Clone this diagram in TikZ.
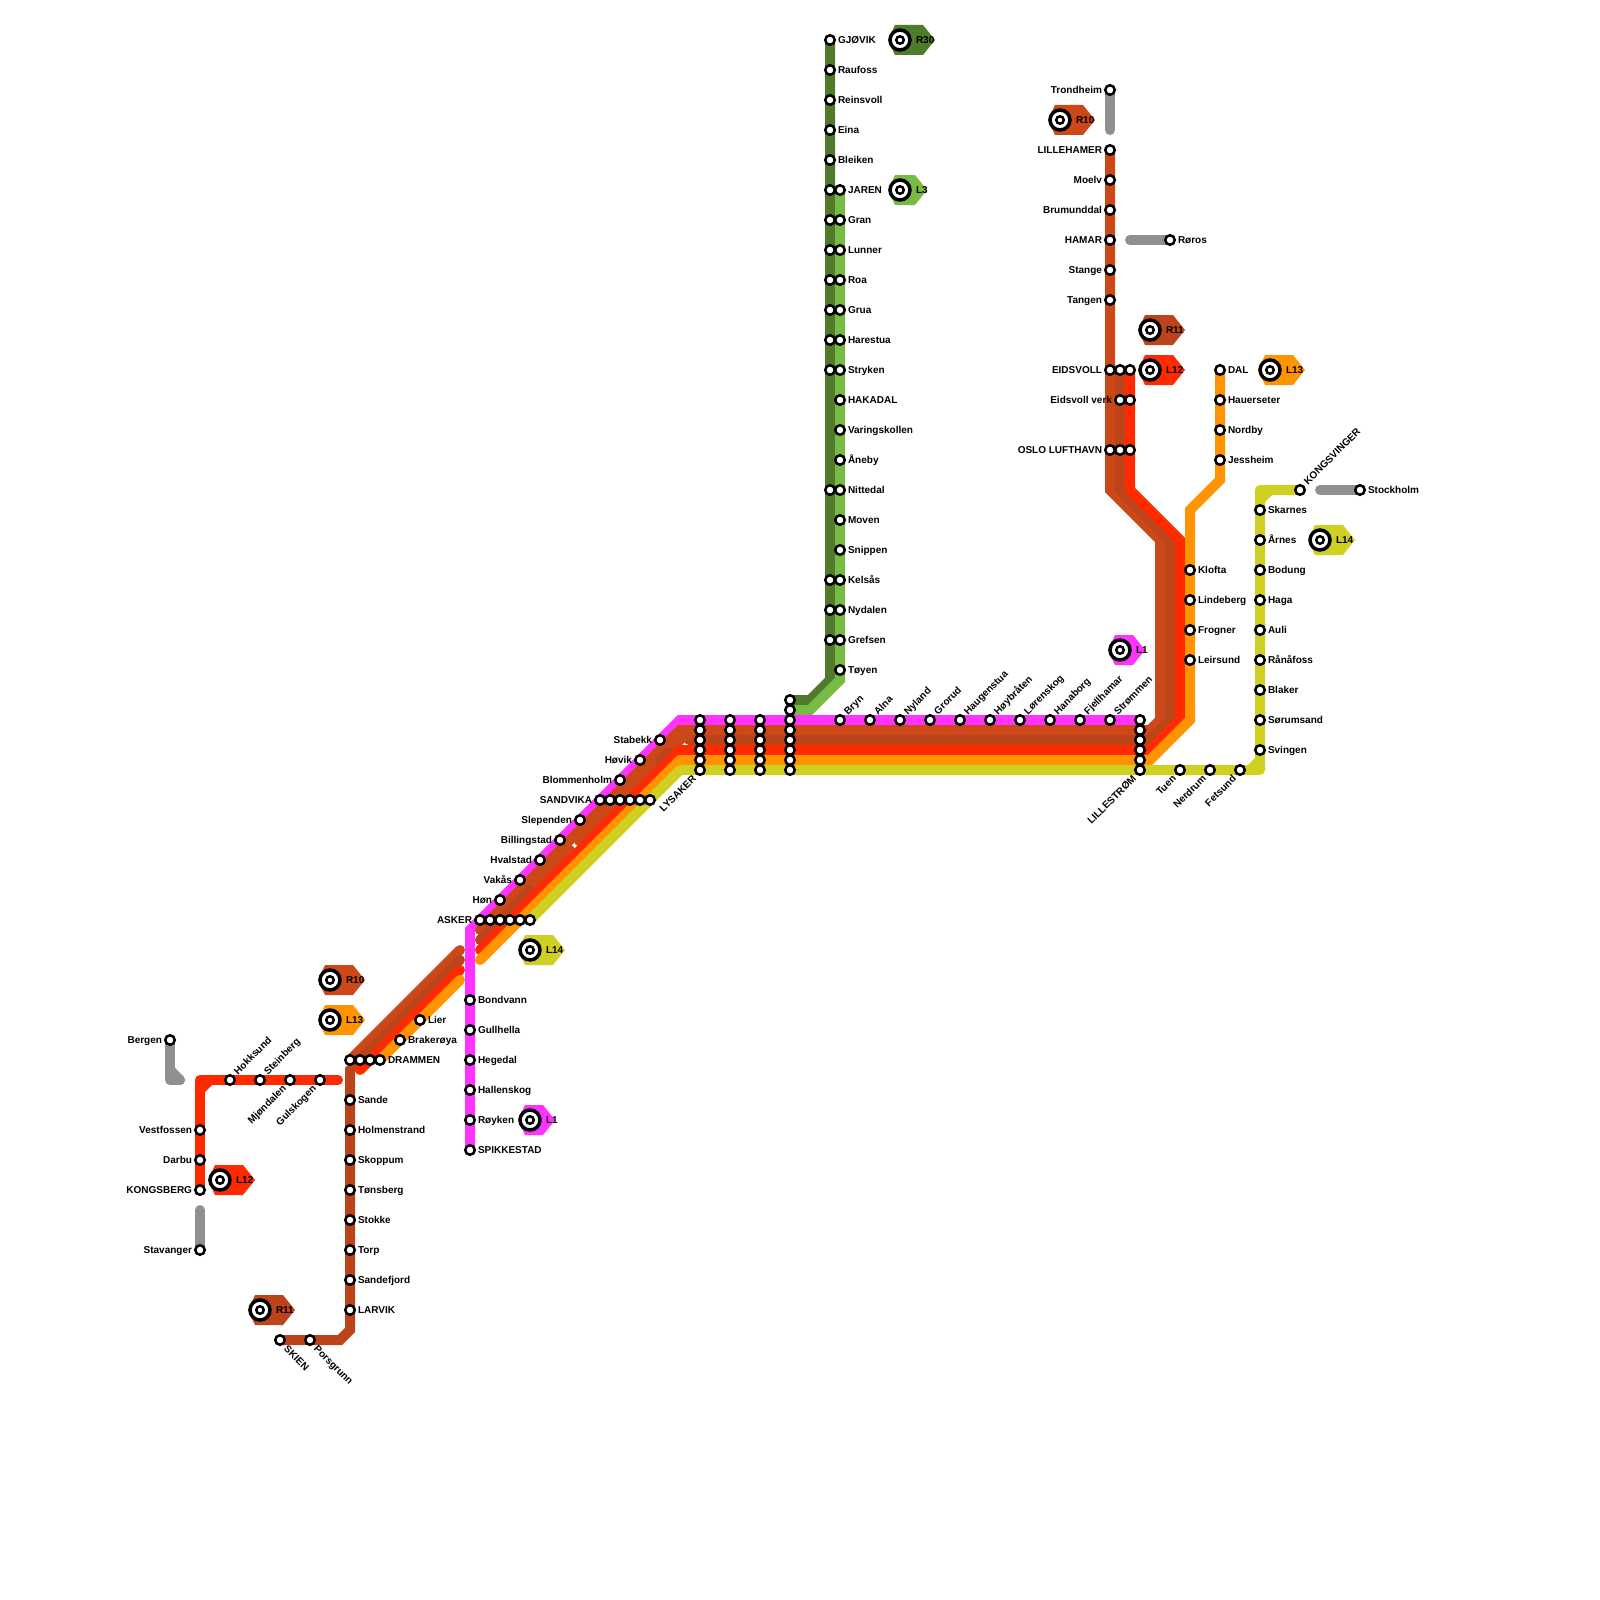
\documentclass[tikz,border=0pt]{standalone}
\usepackage{fontspec}
\setmainfont{Liberation Sans}
\usepackage{xcolor}
\usetikzlibrary{backgrounds}
\definecolor{colL1}{HTML}{FF33FF}
\definecolor{colL3}{HTML}{77BB44}
\definecolor{colL12}{HTML}{FF2A00}
\definecolor{colL13}{HTML}{FF9400}
\definecolor{colL14}{HTML}{CFD022}
\definecolor{colR10}{HTML}{CC4818}
\definecolor{colR11}{HTML}{BB441B}
\definecolor{colR30}{HTML}{507A2C}
\definecolor{colGrey}{HTML}{909090}

\begin{document}
\begin{tikzpicture}[
    x=0.5pt, y=-0.5pt,
    label distance=1.625pt,
    track/.style={line width=5pt, line cap=round},
    L1line/.style={track, colL1},
    L3line/.style={track, colL3},
    L12line/.style={track, colL12},
    L13line/.style={track, colL13},
    L14line/.style={track, colL14, line join=round},
    R10line/.style={track, colR10},
    R11line/.style={track, colR11},
    R30line/.style={track, colR30},
    greyline/.style={track, colGrey, line join=round},
    stn/.style={circle, draw=black, fill=white, line width=1.25pt, minimum size=4.75pt, inner sep=0pt, outer sep=0pt},
    ringo/.style={circle, draw=black, fill=white, line width=1.75pt, minimum size=10pt, inner sep=0pt, outer sep=0pt},
    ringi/.style={circle, draw=black, fill=white, line width=1.25pt, minimum size=3.75pt, inner sep=0pt, outer sep=0pt},
    stxt/.style={font=\bfseries\fontsize{5}{6}\selectfont, inner sep=0pt, outer sep=0pt, text height=3.6pt, text depth=0.5pt},
    upR/.style={stxt, rotate=45, anchor=west, xshift=1pt, yshift=-0.75pt},
    dnL/.style={stxt, rotate=45, anchor=east, xshift=-1pt, yshift=0.5pt},
    dnR/.style={stxt, rotate=-45, anchor=west, xshift=1pt, yshift=0.5pt},
]
\useasboundingbox (0,0) rectangle (1600,1600);

% R30 and L3
\node[stn, label={[stxt]right:GJØVIK}] (gjovik) at (830,40) {};
\node[stn, label={[stxt]right:Raufoss}] (raufoss) at (830,70) {};
\node[stn, label={[stxt]right:Reinsvoll}] (reinsvoll) at (830,100) {};
\node[stn, label={[stxt]right:Eina}] (eina) at (830,130) {};
\node[stn, label={[stxt]right:Bleiken}] (bleiken) at (830,160) {};
\foreach \y in {190,220,...,370,490,580,610,640} {
    \node[stn] (r30n\y) at (830,\y) {};
}
\node[stn, label={[stxt]right:JAREN}] (jaren) at (840,190) {};
\node[stn, label={[stxt]right:Gran}] (gran) at (840,220) {};
\node[stn, label={[stxt]right:Lunner}] (lunner) at (840,250) {};
\node[stn, label={[stxt]right:Roa}] (roa) at (840,280) {};
\node[stn, label={[stxt]right:Grua}] (grua) at (840,310) {};
\node[stn, label={[stxt]right:Harestua}] (harestua) at (840,340) {};
\node[stn, label={[stxt]right:Stryken}] (stryken) at (840,370) {};
\node[stn, label={[stxt]right:HAKADAL}] (hakadal) at (840,400) {};
\node[stn, label={[stxt]right:Varingskollen}] (varingskollen) at (840,430) {};
\node[stn, label={[stxt]right:Åneby}] (aneby) at (840,460) {};
\node[stn, label={[stxt]right:Nittedal}] (nittedal) at (840,490) {};
\node[stn, label={[stxt]right:Moven}] (moven) at (840,520) {};
\node[stn, label={[stxt]right:Snippen}] (snippen) at (840,550) {};
\node[stn, label={[stxt]right:Kelsås}] (kelsas) at (840,580) {};
\node[stn, label={[stxt]right:Nydalen}] (nydalen) at (840,610) {};
\node[stn, label={[stxt]right:Grefsen}] (grefsen) at (840,640) {};
\node[stn, label={[stxt]right:Tøyen}] (toyen) at (840,670) {};

% trunk
\foreach \x in {700,730,760,790,1140} {
    \foreach \y in {720,730,...,760} {
        \node[stn] (t\x-\y) at (\x,\y) {};
    }
}
\node[stn] (t790-700) at (790,700) {};
\node[stn] (t790-710) at (790,710) {};
\node[stn, label={[dnL]225:LYSAKER}] (lysaker) at (700,770) {};
\node[stn] (t730-770) at (730,770) {};
\node[stn] (t760-770) at (760,770) {};
\node[stn] (t790-770) at (790,770) {};
\node[stn, label={[dnL]225:LILLESTRØM}] (lillestrom) at (1140,770) {};
\node[stn, label={[upR]45:Bryn}] (bryn) at (840,720) {};
\node[stn, label={[upR]45:Alna}] (alna) at (870,720) {};
\node[stn, label={[upR]45:Nyland}] (nyland) at (900,720) {};
\node[stn, label={[upR]45:Grorud}] (grorud) at (930,720) {};
\node[stn, label={[upR]45:Haugenstua}] (haugenstua) at (960,720) {};
\node[stn, label={[upR]45:Høybråten}] (hoybraten) at (990,720) {};
\node[stn, label={[upR]45:Lørenskog}] (lorenskog) at (1020,720) {};
\node[stn, label={[upR]45:Hanaborg}] (hanaborg) at (1050,720) {};
\node[stn, label={[upR]45:Fjellhamar}] (fjellhamar) at (1080,720) {};
\node[stn, label={[upR]45:Strømmen}] (strommen) at (1110,720) {};

% diagonal towards Asker
\node[stn, label={[stxt]left:Stabekk}] (stabekk) at (660,740) {};
\node[stn, label={[stxt]left:Høvik}] (hovik) at (640,760) {};
\node[stn, label={[stxt]left:Blommenholm}] (blommenholm) at (620,780) {};
\node[stn, label={[stxt]left:SANDVIKA}] (sandvika) at (600,800) {};
\foreach \x in {610,620,...,650} {
    \node[stn] (sandvika\x) at (\x,800) {};
}
\node[stn, label={[stxt]left:Slependen}] (slependen) at (580,820) {};
\node[stn, label={[stxt]left:Billingstad}] (billingstad) at (560,840) {};
\node[stn, label={[stxt]left:Hvalstad}] (hvalstad) at (540,860) {};
\node[stn, label={[stxt]left:Vakås}] (vakas) at (520,880) {};
\node[stn, label={[stxt]left:Høn}] (hon) at (500,900) {};
\node[stn, label={[stxt]left:ASKER}] (asker) at (480,920) {};
\foreach \x in {490,500,...,530} {
    \node[stn] (asker\x) at (\x,920) {};
}

% L1 south
\node[stn, label={[stxt]right:Bondvann}] (bondvann) at (470,1000) {};
\node[stn, label={[stxt]right:Gullhella}] (gullhella) at (470,1030) {};
\node[stn, label={[stxt]right:Hegedal}] (hegedal) at (470,1060) {};
\node[stn, label={[stxt]right:Hallenskog}] (hallenskog) at (470,1090) {};
\node[stn, label={[stxt]right:Røyken}] (royken) at (470,1120) {};
\node[stn, label={[stxt]right:SPIKKESTAD}] (spikkestad) at (470,1150) {};

% Drammen and west
\node[stn, label={[stxt]right:Lier}] (lier) at (420,1020) {};
\node[stn, label={[stxt]right:Brakerøya}] (brakeroya) at (400,1040) {};
\node[stn] (drammena) at (350,1060) {};
\node[stn] (drammenb) at (360,1060) {};
\node[stn] (drammenc) at (370,1060) {};
\node[stn, label={[stxt]right:DRAMMEN}] (drammen) at (380,1060) {};
\node[stn, label={[stxt]right:Sande}] (sande) at (350,1100) {};
\node[stn, label={[stxt]right:Holmenstrand}] (holmenstrand) at (350,1130) {};
\node[stn, label={[stxt]right:Skoppum}] (skoppum) at (350,1160) {};
\node[stn, label={[stxt]right:Tønsberg}] (tonsberg) at (350,1190) {};
\node[stn, label={[stxt]right:Stokke}] (stokke) at (350,1220) {};
\node[stn, label={[stxt]right:Torp}] (torp) at (350,1250) {};
\node[stn, label={[stxt]right:Sandefjord}] (sandefjord) at (350,1280) {};
\node[stn, label={[stxt]right:LARVIK}] (larvik) at (350,1310) {};
\node[stn, label={[dnR]-45:SKIEN}] (skien) at (280,1340) {};
\node[stn, label={[dnR]-45:Porsgrunn}] (porsgrunn) at (310,1340) {};
\node[stn, label={[upR]45:Hokksund}] (hokksund) at (230,1080) {};
\node[stn, label={[upR]45:Steinberg}] (steinberg) at (260,1080) {};
\node[stn, label={[dnL]225:Mjøndalen}] (mjondalen) at (290,1080) {};
\node[stn, label={[dnL]225:Gulskogen}] (gulskogen) at (320,1080) {};
\node[stn, label={[stxt]left:Vestfossen}] (vestfossen) at (200,1130) {};
\node[stn, label={[stxt]left:Darbu}] (darbu) at (200,1160) {};
\node[stn, label={[stxt]left:KONGSBERG}] (kongsberg) at (200,1190) {};
\node[stn, label={[stxt]left:Stavanger}] (stavanger) at (200,1250) {};
\node[stn, label={[stxt]left:Bergen}] (bergen) at (170,1040) {};

% north of Lillestrom
\node[stn, label={[stxt]left:Trondheim}] (trondheim) at (1110,90) {};
\node[stn, label={[stxt]left:LILLEHAMER}] (lillehamer) at (1110,150) {};
\node[stn, label={[stxt]left:Moelv}] (moelv) at (1110,180) {};
\node[stn, label={[stxt]left:Brumunddal}] (brumunddal) at (1110,210) {};
\node[stn, label={[stxt]left:HAMAR}] (hamar) at (1110,240) {};
\node[stn, label={[stxt]left:Stange}] (stange) at (1110,270) {};
\node[stn, label={[stxt]left:Tangen}] (tangen) at (1110,300) {};
\node[stn, label={[stxt]left:EIDSVOLL}] (eidsvoll) at (1110,370) {};
\node[stn] (eidsvollb) at (1120,370) {};
\node[stn] (eidsvollc) at (1130,370) {};
\node[stn, label={[stxt]left:Eidsvoll verk}] (verk) at (1120,400) {};
\node[stn] (verkb) at (1130,400) {};
\node[stn, label={[stxt]left:OSLO LUFTHAVN}] (gardermoen) at (1110,450) {};
\node[stn] (gardermoenb) at (1120,450) {};
\node[stn] (gardermoenc) at (1130,450) {};
\node[stn, label={[stxt]right:Røros}] (roros) at (1170,240) {};
\node[stn, label={[stxt]right:DAL}] (dal) at (1220,370) {};
\node[stn, label={[stxt]right:Hauerseter}] (hauerseter) at (1220,400) {};
\node[stn, label={[stxt]right:Nordby}] (nordby) at (1220,430) {};
\node[stn, label={[stxt]right:Jessheim}] (jessheim) at (1220,460) {};
\node[stn, label={[stxt]right:Klofta}] (klofta) at (1190,570) {};
\node[stn, label={[stxt]right:Lindeberg}] (lindeberg) at (1190,600) {};
\node[stn, label={[stxt]right:Frogner}] (frogner) at (1190,630) {};
\node[stn, label={[stxt]right:Leirsund}] (leirsund) at (1190,660) {};

% L14 east
\node[stn, label={[upR]45:KONGSVINGER}] (kongsvinger) at (1300,490) {};
\node[stn, label={[stxt]right:Stockholm}] (stockholm) at (1360,490) {};
\node[stn, label={[stxt]right:Skarnes}] (skarnes) at (1260,510) {};
\node[stn, label={[stxt]right:Årnes}] (arnes) at (1260,540) {};
\node[stn, label={[stxt]right:Bodung}] (bodung) at (1260,570) {};
\node[stn, label={[stxt]right:Haga}] (haga) at (1260,600) {};
\node[stn, label={[stxt]right:Auli}] (auli) at (1260,630) {};
\node[stn, label={[stxt]right:Rånåfoss}] (ranafoss) at (1260,660) {};
\node[stn, label={[stxt]right:Blaker}] (blaker) at (1260,690) {};
\node[stn, label={[stxt]right:Sørumsand}] (sorumsand) at (1260,720) {};
\node[stn, label={[stxt]right:Svingen}] (svingen) at (1260,750) {};
\node[stn, label={[dnL]225:Tuen}] (tuen) at (1180,770) {};
\node[stn, label={[dnL]225:Nerdrum}] (nerdrum) at (1210,770) {};
\node[stn, label={[dnL]225:Fetsund}] (fetsund) at (1240,770) {};

% line flags
\foreach \n/\x/\y/\c/\w/\t in {
    fR30/900/40/colR30/35/R30, fL3/900/190/colL3/27/L3,
    fR10n/1060/120/colR10/35/R10, fL1n/1120/650/colL1/25/L1,
    fR11n/1150/330/colR11/35/R11, fL12n/1150/370/colL12/35/L12,
    fL13n/1270/370/colL13/35/L13, fL14n/1320/540/colL14/35/L14,
    fL14s/530/950/colL14/35/L14, fL1s/530/1120/colL1/25/L1,
    fR10s/330/980/colR10/35/R10, fL13s/330/1020/colL13/35/L13,
    fL12s/220/1180/colL12/35/L12, fR11s/260/1310/colR11/35/R11} {
    \fill[\c] ({\x-5},{\y-15}) -- ({\x+\w-12},{\y-15}) -- ({\x+\w},\y)
        -- ({\x+\w-12},{\y+15}) -- ({\x-5},{\y+15}) -- ({\x-12},\y) -- cycle;
    \node[ringo] (\n) at (\x,\y) {};
    \node[ringi] (\n c) at (\x,\y) {};
    \node[stxt, anchor=west] (\n t) at ({\x+16},\y) {\t};
}

\coordinate (capR10w) at (460,950);
\coordinate (capR11w) at (460,960);
\coordinate (capL12w) at (460,970);
\coordinate (capL13w) at (460,980);
\coordinate (capR10e) at (480,930);
\coordinate (capR11e) at (480,940);
\coordinate (capL12e) at (480,950);
\coordinate (capL13e) at (480,960);
\coordinate (capL12d) at (360,1070);
\coordinate (capL12k) at (338,1080);
\coordinate (capTrd) at (1110,130);
\coordinate (capRor) at (1130,240);
\coordinate (capSto) at (1320,490);
\coordinate (capSta) at (200,1210);
\coordinate (capBer) at (180,1080);

\begin{scope}[on background layer]
% north branches
\draw[R30line] (gjovik.center) -- (830,680) -- (810,700) -- (t790-700.center);
\draw[L3line] (jaren.center) -- (840,680) -- (810,710) -- (t790-710.center);
% L1
\draw[L1line] (spikkestad.center) -- (470,930) -- (680,720) -- (t1140-720.center);
% R10
\draw[R10line] (lillehamer.center) -- (1110,490) -- (1160,540) -- (1160,720) -- (1150,730)
    -- (t1140-730.center) -- (680,730) -- (capR10e);
\draw[R10line] (capR10w) -- (drammena.center);
% R11, with its pieces along the shared diagonal
\draw[R11line] (eidsvollb.center) -- (1120,490) -- (1170,540) -- (1170,720) -- (1150,740)
    -- (t1140-740.center) -- (689,740);
\draw[R11line] (capR11w) -- (360,1060) -- (350,1070) -- (350,1330) -- (340,1340) -- (skien.center);
\draw[R10line] (530,890) -- (570,850);
\draw[R10line] (579,841) -- (681,739);
\draw[R10line, line width=3pt, line cap=butt] (678,738) -- (692,738);
\draw[R11line] (capR11e) -- (530,890);
\draw[R11line] (660,760) -- (668,752);
% L12
\draw[L12line] (eidsvollc.center) -- (1130,490) -- (1180,540) -- (1180,720) -- (1150,750)
    -- (t1140-750.center) -- (680,750) -- (capL12e);
\draw[L12line] (capL12w) -- (capL12d);
\draw[L12line, line join=round] (kongsberg.center) -- (200,1080) -- (capL12k);
\draw[L12line] (200,1090) -- (210,1080);
% L13
\draw[L13line] (dal.center) -- (1220,480) -- (1190,510) -- (1190,720) -- (1150,760)
    -- (t1140-760.center) -- (680,760) -- (capL13e);
\draw[L13line] (capL13w) -- (drammen.center);
% L14
\draw[L14line] (asker530.center) -- (680,770) -- (1260,770) -- (1260,490) -- (kongsvinger.center);
\draw[L14line] (1250,770) -- (1260,760);
\draw[L14line] (1260,500) -- (1270,490);
% outside connections
\draw[greyline] (trondheim.center) -- (capTrd);
\draw[greyline] (capRor) -- (roros.center);
\draw[greyline] (capSto) -- (stockholm.center);
\draw[greyline] (capSta) -- (stavanger.center);
\draw[greyline] (bergen.center) -- (170,1080) -- (capBer);
\draw[greyline] (170,1070) -- (capBer);
\end{scope}
\end{tikzpicture}
\end{document}
